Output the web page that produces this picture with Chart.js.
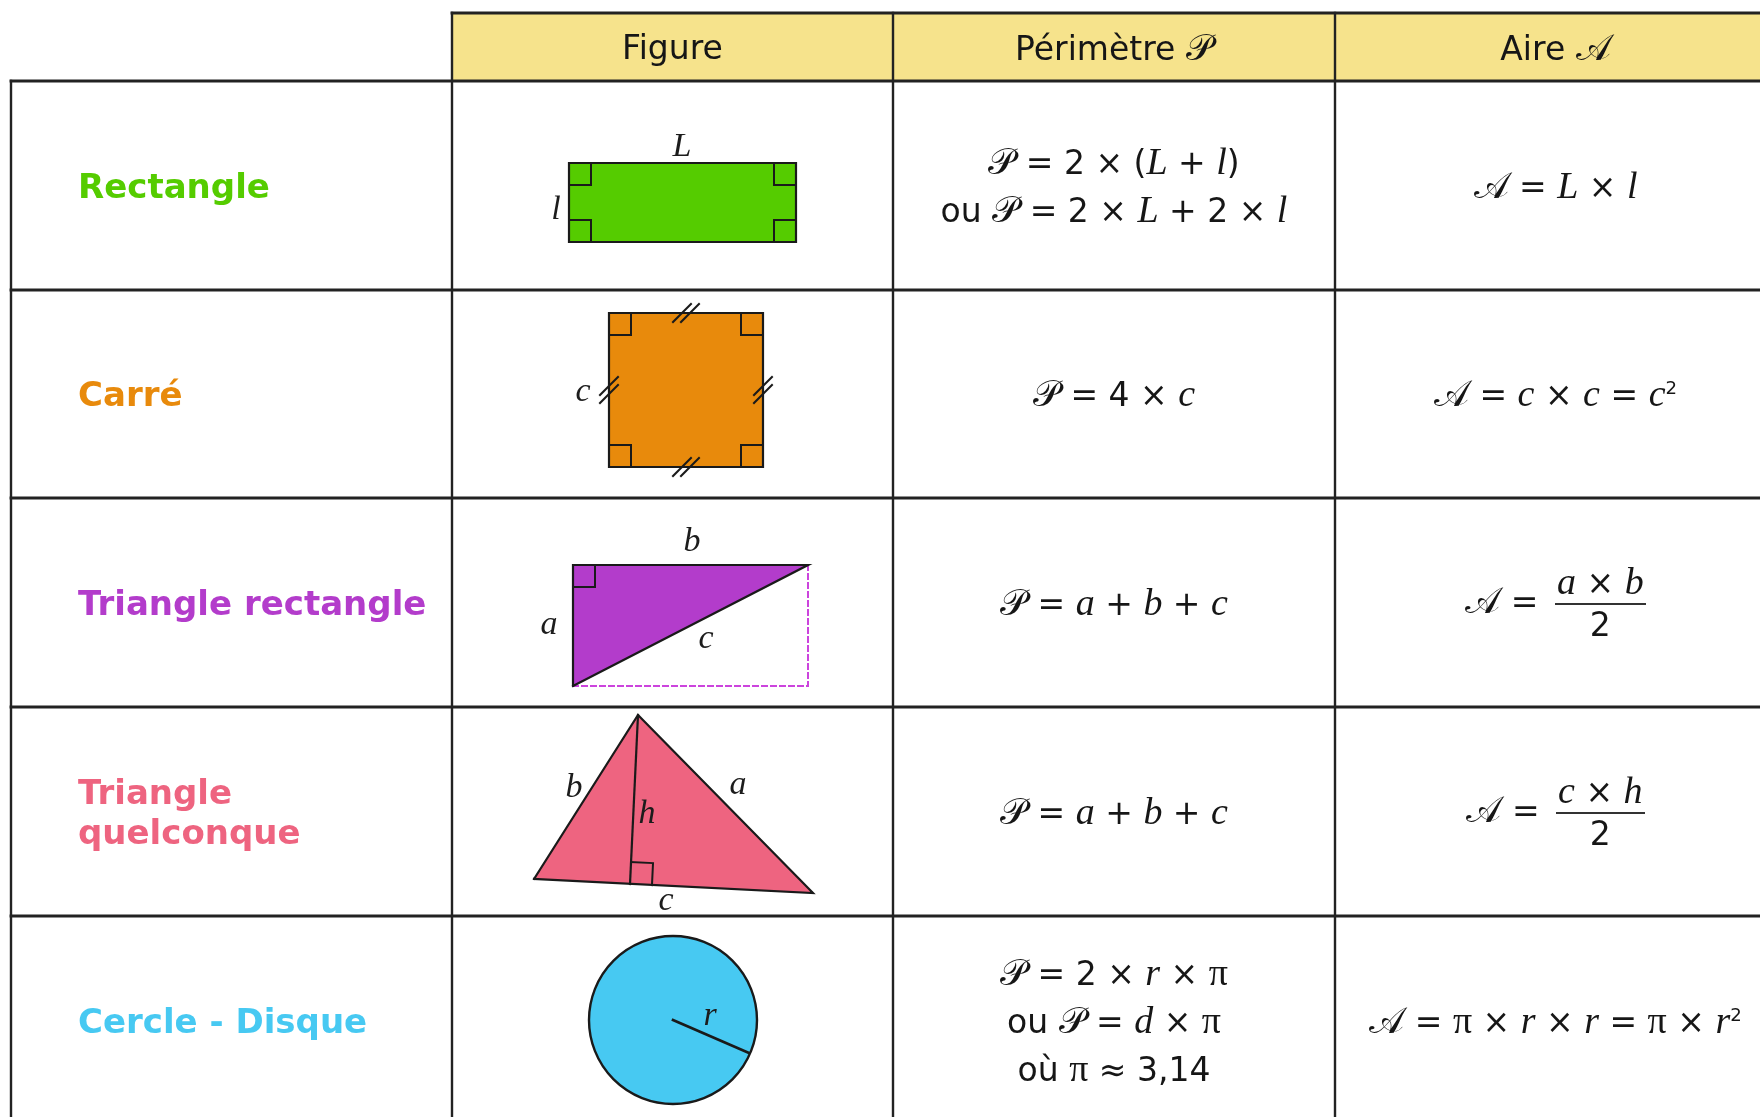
<!DOCTYPE html>
<html>
<head>
<meta charset="utf-8">
<script src="https://cdn.jsdelivr.net/npm/chart.js@4/dist/chart.umd.min.js"></script>
<style>
html, body { margin: 0; padding: 0; background: #fff; width: 1760px; height: 1117px; overflow: hidden; }
#wrap { position: relative; width: 1760px; height: 1117px; }
#chart { position: absolute; left: 0; top: 0; }
#txt { position: absolute; left: 0; top: 0; width: 1760px; height: 1117px; pointer-events: none; }
.cell { position: absolute; display: flex; align-items: center; justify-content: center; text-align: center;
        font-family: "DejaVu Sans"; color: #161616; box-sizing: border-box; }
.head { font-size: 33px; }
.name { justify-content: flex-start; text-align: left; font-weight: bold; font-size: 34px; line-height: 40px; padding-left: 67px; padding-right: 6px; }
.f { font-size: 33px; line-height: 47px; white-space: nowrap; }
.v { font-family: "Liberation Serif"; font-style: italic; font-size: 38px; }
.p { font-family: "Liberation Serif"; font-size: 38px; }
.s { font-family: "DejaVu Serif", "DejaVu Sans", serif; font-size: 37px; }
.frac { display: inline-flex; flex-direction: column; align-items: center; vertical-align: middle; margin-left: 6px; }
.frac .num { border-bottom: 2px solid #333; padding: 0 2px; line-height: 40px; }
.frac .den { line-height: 40px; }
sup { font-size: 55%; line-height: 0; }
</style>
</head>
<body>
<div id="wrap">
  <canvas id="chart" width="1760" height="1117"></canvas>
  <div id="txt"></div>
</div>
<script>
// table layout (page pixels)
const colX = [11, 452, 893, 1335, 1776];
const rowY = [13, 81, 290, 498, 707, 916, 1125];

// text content
const headers = ['Figure', 'Périmètre <span class="s">𝒫</span>', 'Aire <span class="s">𝒜</span>'];
const shapes = ['Rectangle', 'Carré', 'Triangle rectangle', 'Triangle quelconque', 'Cercle - Disque'];
const shapeColors = ['#55cc00', '#e88a0c', '#b33ccb', '#ee6480', '#47c9f2'];

const P = '<span class="s">𝒫</span>';
const A = '<span class="s">𝒜</span>';
const v = t => '<span class="v">' + t + '</span>';
const pi = '<span class="p">π</span>';
const frac = (n, d) => '<span class="frac"><span class="num">' + n + '</span><span class="den">' + d + '</span></span>';

const perimeters = [
  P + ' = 2 × (' + v('L') + ' + ' + v('l') + ')<br>ou ' + P + ' = 2 × ' + v('L') + ' + 2 × ' + v('l'),
  P + ' = 4 × ' + v('c'),
  P + ' = ' + v('a') + ' + ' + v('b') + ' + ' + v('c'),
  P + ' = ' + v('a') + ' + ' + v('b') + ' + ' + v('c'),
  P + ' = 2 × ' + v('r') + ' × ' + pi + '<br>ou ' + P + ' = ' + v('d') + ' × ' + pi + '<br>où ' + pi + ' ≈ 3,14'
];
const areas = [
  A + ' = ' + v('L') + ' × ' + v('l'),
  A + ' = ' + v('c') + ' × ' + v('c') + ' = ' + v('c') + '<sup>2</sup>',
  A + ' = ' + frac(v('a') + ' × ' + v('b'), '2'),
  A + ' = ' + frac(v('c') + ' × ' + v('h'), '2'),
  A + ' = ' + pi + ' × ' + v('r') + ' × ' + v('r') + ' = ' + pi + ' × ' + v('r') + '<sup>2</sup>'
];

// figure geometry (same pixel units as the chart scales)
const rectPts = [[569, 242], [569, 163], [796, 163], [796, 242]];
const squarePts = [[609, 467], [609, 313], [763, 313], [763, 467]];
const rightTriPts = [[573, 686], [573, 565], [808, 565]];
const rightTriDashed = [[573, 686], [808, 686], [808, 565]];
const triPts = [[534, 879], [638, 715], [813, 893]];
const triFoot = [630, 884];
const circle = { x: 673, y: 1020, r: 84 };
const radiusEnd = [749, 1053];

// right angle marks: vertex and the two neighbours that give its sides
const rightAngles = [
  [[569, 163], [796, 163], [569, 242]], [[796, 163], [569, 163], [796, 242]],
  [[569, 242], [796, 242], [569, 163]], [[796, 242], [569, 242], [796, 163]],
  [[609, 313], [763, 313], [609, 467]], [[763, 313], [609, 313], [763, 467]],
  [[609, 467], [763, 467], [609, 313]], [[763, 467], [609, 467], [763, 313]],
  [[573, 565], [808, 565], [573, 686]],
  [triFoot, [813, 893], [638, 715]]
];
// equal-side ticks on the square: centre and side direction
const squareTicks = [[686, 313, 'h'], [686, 467, 'h'], [609, 390, 'v'], [763, 390, 'v']];

const figureLabels = [
  ['L', 682, 147], ['l', 556, 210],
  ['c', 583, 392],
  ['b', 692, 542], ['a', 549, 625], ['c', 706, 639],
  ['b', 574, 788], ['a', 738, 785], ['h', 647, 814], ['c', 666, 901],
  ['r', 710, 1016]
];

// ---------- text cells ----------
const txt = document.getElementById('txt');
function addCell(cls, html, c, r, color) {
  const d = document.createElement('div');
  d.className = 'cell ' + cls;
  d.style.left = colX[c] + 'px';
  d.style.top = rowY[r] + 'px';
  d.style.width = (colX[c + 1] - colX[c]) + 'px';
  d.style.height = (rowY[r + 1] - rowY[r]) + 'px';
  if (color) d.style.color = color;
  d.innerHTML = '<div>' + html + '</div>';
  txt.appendChild(d);
}
headers.forEach((h, i) => addCell('head', h, i + 1, 0));
shapes.forEach((s, i) => {
  addCell('name', s, 0, i + 1, shapeColors[i]);
  addCell('f', perimeters[i], 2, i + 1);
  addCell('f', areas[i], 3, i + 1);
});

// ---------- chart datasets ----------
const pt = p => ({ x: p[0], y: p[1] });
const datasets = [];
const INK = '#1a1a1a';

function seg(points, width, color, order, dash) {
  datasets.push({
    data: points.map(pt), showLine: true, fill: false,
    borderColor: color || INK, borderWidth: width || 2,
    borderDash: dash || [], borderCapStyle: 'square', borderJoinStyle: 'miter',
    pointRadius: 0, order: order || 1
  });
}
function poly(points, color, order) {
  datasets.push({
    data: points.map(pt), showLine: true, fill: 'shape',
    backgroundColor: color, borderWidth: 0, borderColor: 'rgba(0,0,0,0)',
    pointRadius: 0, order: order || 3
  });
}

// header band
poly([[colX[1], rowY[0]], [colX[1], rowY[1]], [colX[4], rowY[1]], [colX[4], rowY[0]]], '#f6e38c', 5);
// table grid
seg([[colX[1], rowY[0]], [colX[4], rowY[0]]], 2.8, '#222', 2);
rowY.slice(1, 6).forEach(y => seg([[colX[0], y], [colX[4], y]], 2.8, '#222', 2));
seg([[colX[0], rowY[1]], [colX[0], rowY[6]]], 2.4, '#222', 2);
colX.slice(1, 4).forEach(x => seg([[x, rowY[0]], [x, rowY[6]]], 2.4, '#222', 2));

// figures
poly(rectPts, shapeColors[0]);
seg(rectPts.concat([rectPts[0]]), 2.2);
poly(squarePts, shapeColors[1]);
seg(squarePts.concat([squarePts[0]]), 2.2);
poly(rightTriPts, shapeColors[2]);
seg(rightTriPts.concat([rightTriPts[0]]), 2.2);
seg(rightTriDashed, 2, '#cc44dd', 1, [5, 4]);
poly(triPts, shapeColors[3]);
seg(triPts.concat([triPts[0]]), 2.2);
seg([triPts[1], triFoot], 2.2);
datasets.push({
  type: 'bubble', data: [circle], backgroundColor: shapeColors[4],
  borderColor: INK, borderWidth: 2.4, order: 3
});
seg([[circle.x, circle.y], radiusEnd], 2.6);

// right angle marks
const MARK = 22;
rightAngles.forEach(([o, a, b]) => {
  const ua = [a[0] - o[0], a[1] - o[1]], ub = [b[0] - o[0], b[1] - o[1]];
  const la = Math.hypot(ua[0], ua[1]), lb = Math.hypot(ub[0], ub[1]);
  const pa = [o[0] + ua[0] / la * MARK, o[1] + ua[1] / la * MARK];
  const pb = [o[0] + ub[0] / lb * MARK, o[1] + ub[1] / lb * MARK];
  const pc = [pa[0] + pb[0] - o[0], pa[1] + pb[1] - o[1]];
  seg([pa, pc, pb], 2);
});

// double ticks on the square
squareTicks.forEach(([cx, cy, dir]) => {
  [-4, 4].forEach(off => {
    const x = dir === 'h' ? cx + off : cx;
    const y = dir === 'h' ? cy : cy + off;
    seg([[x - 9, y + 9], [x + 9, y - 9]], 2);
  });
});

const labelPlugin = {
  id: 'figureLabels',
  afterDatasetsDraw(chart) {
    const { ctx, scales: { x, y } } = chart;
    ctx.save();
    ctx.fillStyle = '#1c1c1c';
    ctx.font = 'italic 34px "Liberation Serif"';
    ctx.textAlign = 'center';
    ctx.textBaseline = 'middle';
    figureLabels.forEach(([t, lx, ly]) => ctx.fillText(t, x.getPixelForValue(lx), y.getPixelForValue(ly)));
    ctx.restore();
  }
};

new Chart(document.getElementById('chart'), {
  type: 'scatter',
  data: { datasets },
  options: {
    responsive: false,
    animation: false,
    events: [],
    layout: { autoPadding: false, padding: 0 },
    plugins: { legend: { display: false }, tooltip: { enabled: false } },
    scales: {
      x: { type: 'linear', min: 0, max: 1760, display: false },
      y: { type: 'linear', min: 0, max: 1117, reverse: true, display: false }
    }
  },
  plugins: [labelPlugin]
});
</script>
</body>
</html>
